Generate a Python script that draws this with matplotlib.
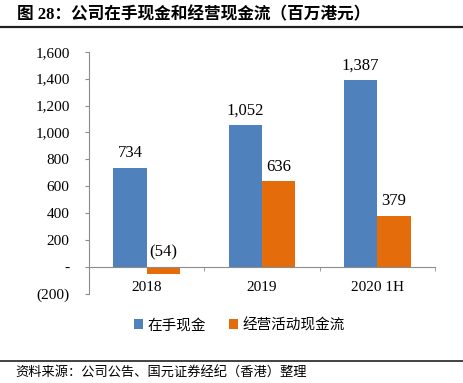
import numpy as np
import matplotlib
matplotlib.use('Agg')
import matplotlib.pyplot as plt
import matplotlib.ticker as mticker
from matplotlib.lines import Line2D

# ── Data ─────────────────────────────────────────────
categories = ['2018', '2019', '2020 1H']
cash_on_hand = [734, 1052, 1387]
operating_cf = [-54, 636, 379]
series_names = ['在手现金', '经营活动现金流']
title = '图 28：公司在手现金和经营现金流（百万港元）'
source = '资料来源：公司公告、国元证券经纪（香港）整理'

BLUE = '#4F81BD'
ORANGE = '#E46C0A'
AXIS_GREY = '#8C8C8C'

plt.rcParams['font.family'] = ['Liberation Serif', 'Noto Sans CJK SC', 'DejaVu Sans']

fig = plt.figure(figsize=(4.63, 3.83), dpi=100)
ax = fig.add_axes([89 / 463, 1 - 294 / 383, (435 - 89) / 463, (294 - 51.7) / 383])

x = np.arange(len(categories))
w = 0.29
b1 = ax.bar(x - w / 2, cash_on_hand, w, color=BLUE, label=series_names[0])
b2 = ax.bar(x + w / 2, operating_cf, w, color=ORANGE, label=series_names[1])

def fmt(v, _=None):
    if v == 0:
        return '-'
    if v < 0:
        return f'({abs(v):,.0f})'
    return f'{v:,.0f}'

for bars, vals in [(b1, cash_on_hand), (b2, operating_cf)]:
    for r, v in zip(bars, vals):
        ax.annotate(fmt(v), (r.get_x() + r.get_width() / 2, max(v, 0)),
                    xytext=(0, 5), textcoords='offset points',
                    ha='center', va='bottom', fontsize=12)

ax.set_xlim(-0.5, 2.5)
ax.set_ylim(-200, 1600)
ax.yaxis.set_major_locator(mticker.MultipleLocator(200))
ax.yaxis.set_major_formatter(mticker.FuncFormatter(fmt))

for s in ['top', 'right']:
    ax.spines[s].set_visible(False)
ax.spines['left'].set_color(AXIS_GREY)
ax.spines['bottom'].set_color(AXIS_GREY)
ax.spines['bottom'].set_position(('data', 0))

ax.set_xticks(x)
ax.set_xticklabels(categories)
ax.set_xticks([0.5, 1.5, 2.5], minor=True)
ax.tick_params(axis='x', which='major', length=0, pad=10, labelsize=11)
ax.tick_params(axis='x', which='minor', length=3, color=AXIS_GREY, direction='out')
ax.tick_params(axis='y', length=3, color=AXIS_GREY, pad=11, labelsize=11)

fig.legend(handles=[b1, b2], loc='center', bbox_to_anchor=(239.5 / 463, 1 - 325 / 383),
           ncol=2, frameon=False, handlelength=0.6, handleheight=0.6,
           handletextpad=0.3, columnspacing=1.6,
           prop={'family': ['Noto Sans CJK SC'], 'size': 10.5})

# title and footer
fig.text(17 / 463, 1 - 15 / 383, title, fontsize=12, fontweight='bold', va='center', ha='left')
fig.add_artist(Line2D([0, 1], [1 - 27 / 383] * 2, color='#222222', lw=1.6))
fig.add_artist(Line2D([0, 1], [1 - 361 / 383] * 2, color='#222222', lw=1.2))
fig.text(15 / 463, 1 - 373 / 383, source, fontsize=9.5, va='center', ha='left',
         style='italic', family=['Noto Sans CJK SC'])

fig.savefig('out.png', dpi=100)
